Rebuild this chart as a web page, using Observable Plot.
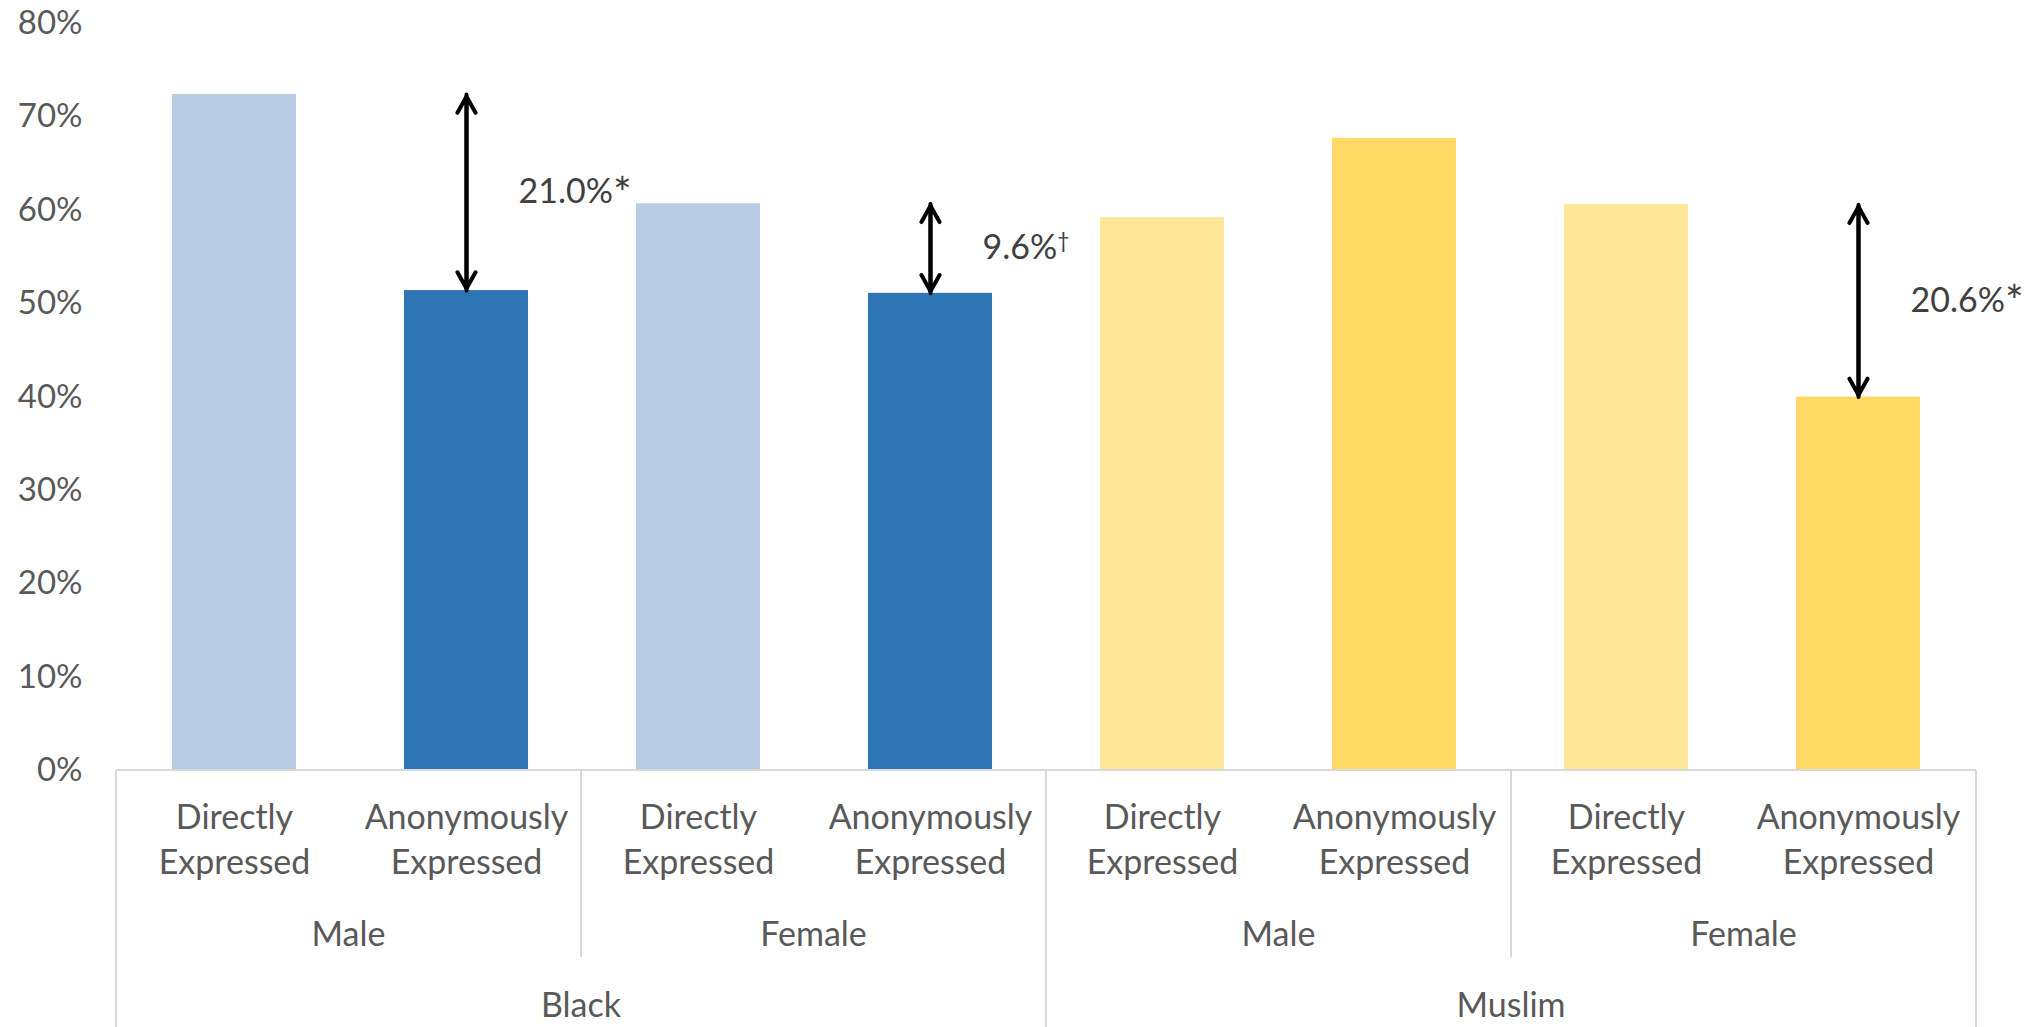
<!DOCTYPE html>
<html>
<head>
<meta charset="utf-8">
<script src="https://cdn.jsdelivr.net/npm/d3@7"></script>
<script src="https://cdn.jsdelivr.net/npm/@observablehq/plot@0.6"></script>
<style>
  html, body { margin: 0; padding: 0; background: #ffffff; }
  #chart { width: 2042px; height: 1027px; }
</style>
</head>
<body>
<div id="chart"></div>
<script>
// Share (%) of each group, by how the judgement was expressed
const races = ["Black", "Muslim"];
const genders = ["Male", "Female"];
const types = ["Directly Expressed", "Anonymously Expressed"];
// order: Male direct, Male anonymous, Female direct, Female anonymous
const blackValues = [72.4, 51.4, 60.7, 51.1];
const muslimValues = [59.2, 67.7, 60.6, 40.0];
const yTicks = [0, 10, 20, 30, 40, 50, 60, 70, 80];

// Direct-vs-anonymous gaps that are called out with arrows
const gapRaces = ["Black", "Black", "Muslim"];
const gapGenders = ["Male", "Female", "Female"];
const gapLabels = ["21.0%", "9.6%", "20.6%"];
const gapMarks = ["*", "†", "*"];

const valuesByRace = {Black: blackValues, Muslim: muslimValues};
const rows = [];
races.forEach(race => genders.forEach((gender, gi) => types.forEach((type, ti) => {
  rows.push({race, gender, type, id: `${race}|${gender}|${type}`, value: valuesByRace[race][gi * 2 + ti]});
})));
const ids = rows.map(d => d.id);
const lookup = (race, gender, type) => rows.find(d => d.race === race && d.gender === gender && d.type === type);

const gaps = gapRaces.map((race, i) => {
  const direct = lookup(race, gapGenders[i], types[0]);
  const anon = lookup(race, gapGenders[i], types[1]);
  return {id: anon.id, from: direct.value, to: anon.value, label: gapLabels[i], mark: gapMarks[i]};
});

const colorFor = d => ({
  "Black|Directly Expressed": "#b8cce4",
  "Black|Anonymously Expressed": "#2e75b6",
  "Muslim|Directly Expressed": "#ffe699",
  "Muslim|Anonymously Expressed": "#ffd966"
})[`${d.race}|${d.type}`];

const FONT = 34;
const GRID = "#d9d9d9";
const INK = "#595959";

// Category box below the bars: separators plus gender and race labels
function categoryBox(index, scales, values, dims) {
  const {width, height, marginLeft, marginRight, marginBottom} = dims;
  const step = (width - marginLeft - marginRight) / ids.length;
  const y0 = height - marginBottom;
  const g = d3.create("svg:g");
  const line = (x1, y1, x2, y2) => g.append("line")
    .attr("x1", x1).attr("y1", y1).attr("x2", x2).attr("y2", y2)
    .attr("stroke", GRID).attr("stroke-width", 2);
  const label = (x, y, t) => g.append("text")
    .attr("x", x).attr("y", y).attr("text-anchor", "middle").attr("dy", "0.35em")
    .attr("fill", INK).attr("font-size", FONT).text(t);

  line(marginLeft, y0, width - marginRight, y0);
  const perRace = genders.length * types.length;
  races.forEach((race, ri) => {
    const start = ri * perRace;
    const xa = marginLeft + start * step;
    const xb = marginLeft + (start + perRace) * step;
    line(xa, y0, xa, height);
    if (ri === races.length - 1) line(xb, y0, xb, height);
    label((xa + xb) / 2, y0 + 235, race);
    genders.forEach((gender, gi) => {
      const gs = start + gi * types.length;
      const ga = marginLeft + gs * step;
      const gb = marginLeft + (gs + types.length) * step;
      if (gi > 0) line(ga, y0, ga, y0 + 187);
      label((ga + gb) / 2, y0 + 164, gender);
    });
  });
  return g.node();
}

const arrowStyle = {stroke: "#000", strokeWidth: 4, headLength: 7, headAngle: 58, insetEnd: 2, bend: 0};

const chart = Plot.plot({
  width: 2042,
  height: 1027,
  marginTop: 23,
  marginBottom: 257,
  marginLeft: 116,
  marginRight: 66,
  style: {fontFamily: "Lato, 'Open Sans', sans-serif", fontSize: FONT + "px", background: "#ffffff", color: INK},
  x: {domain: ids, paddingInner: 0.467, paddingOuter: 0.2335, axis: null},
  y: {domain: [0, 80], ticks: yTicks, tickFormat: d => d + "%", label: null},
  marks: [
    Plot.axisY({ticks: yTicks, tickFormat: d => d + "%", tickSize: 0, tickPadding: 34, fontSize: 33, fill: INK, label: null}),
    Plot.barY(rows, {x: "id", y: "value", fill: colorFor}),
    Plot.text(rows, {
      x: "id",
      text: d => d.type.replace(" ", "\n"),
      frameAnchor: "bottom",
      lineAnchor: "middle",
      lineHeight: 45 / FONT,
      dy: 67,
      fontSize: FONT,
      fill: INK
    }),
    categoryBox,
    Plot.arrow(gaps, {x1: "id", x2: "id", y1: "to", y2: "from", ...arrowStyle}),
    Plot.arrow(gaps, {x1: "id", x2: "id", y1: "from", y2: "to", ...arrowStyle}),
    Plot.text(gaps, {
      x: "id",
      y: d => (d.from + d.to) / 2,
      text: d => d.label + d.mark,
      textAnchor: "start",
      dx: 52,
      fontSize: FONT,
      fill: "#404040"
    })
  ]
});

// Significance marks: the dagger is a superscript, the asterisk a little larger
d3.select(chart).selectAll("text").each(function () {
  const el = d3.select(this);
  const t = this.textContent;
  if (this.childElementCount !== 0) return;
  if (t.endsWith("†")) {
    el.text(null);
    el.append("tspan").text(t.slice(0, -1));
    el.append("tspan").attr("font-size", 21).attr("dy", "-0.55em").text("†");
  } else if (/%\*$/.test(t)) {
    el.text(null);
    el.append("tspan").text(t.slice(0, -1));
    el.append("tspan").attr("font-size", 44).attr("dy", "0.12em").text("*");
  }
});

document.getElementById("chart").appendChild(chart);
</script>
</body>
</html>
